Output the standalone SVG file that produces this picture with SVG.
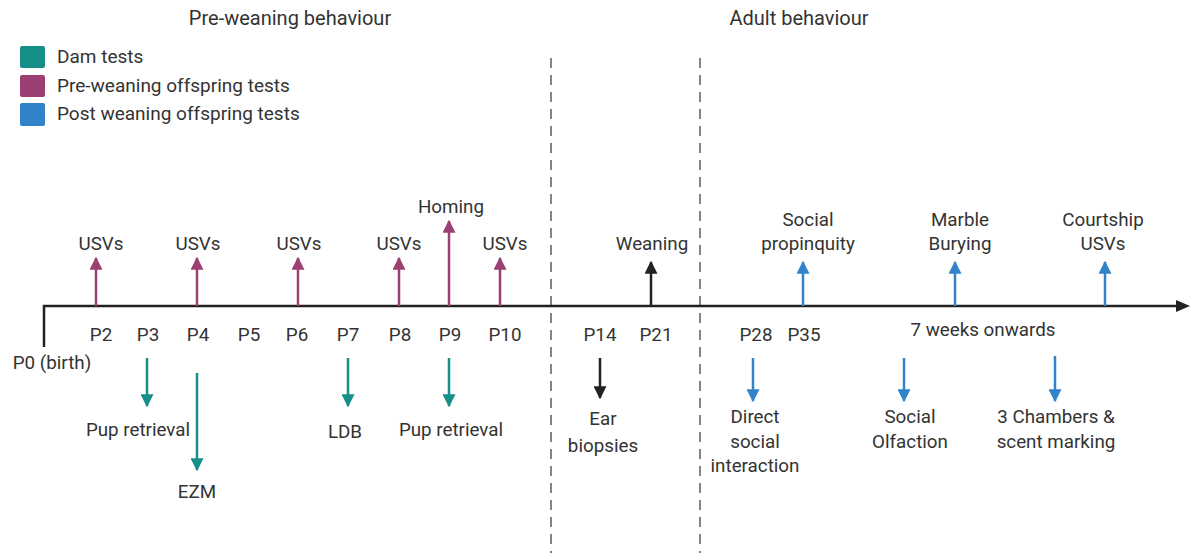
<svg xmlns="http://www.w3.org/2000/svg" width="1191" height="553" viewBox="0 0 1191 553">
<style>
text{font-family:Roboto,"Liberation Sans",sans-serif;font-size:18.8px;fill:#333;text-anchor:middle}
.title{font-size:20px}
.leg{text-anchor:start;font-size:19px}
.t{stroke:#168f88;stroke-width:2.5}
.m{stroke:#9c3f72;stroke-width:2.5}
.b{stroke:#3182c8;stroke-width:2.5}
.k{stroke:#222;stroke-width:2.5}
.dash{stroke:#444;stroke-width:1.3;stroke-dasharray:10 7}
</style>
<defs>
<marker id="at" viewBox="0 0 10 10" refX="9" refY="5" markerWidth="5.2" markerHeight="5.2" orient="auto" markerUnits="strokeWidth"><path d="M0,0L10,5L0,10z" fill="#168f88"/></marker>
<marker id="am" viewBox="0 0 10 10" refX="9" refY="5" markerWidth="5.2" markerHeight="5.2" orient="auto" markerUnits="strokeWidth"><path d="M0,0L10,5L0,10z" fill="#9c3f72"/></marker>
<marker id="ab" viewBox="0 0 10 10" refX="9" refY="5" markerWidth="5.2" markerHeight="5.2" orient="auto" markerUnits="strokeWidth"><path d="M0,0L10,5L0,10z" fill="#3182c8"/></marker>
<marker id="ak" viewBox="0 0 10 10" refX="9" refY="5" markerWidth="5.2" markerHeight="5.2" orient="auto" markerUnits="strokeWidth"><path d="M0,0L10,5L0,10z" fill="#222"/></marker>
</defs>
<rect width="1191" height="553" fill="#fff"/>
<g id="titles">
<text class="title" x="290" y="25">Pre-weaning behaviour</text>
<text class="title" x="799" y="25">Adult behaviour</text>
</g>
<g id="legend">
<rect x="20" y="46" width="25" height="22" rx="2" fill="#168f88"/>
<rect x="20" y="75" width="25" height="22" rx="2" fill="#9c3f72"/>
<rect x="20" y="103" width="25" height="23" rx="2" fill="#3182c8"/>
<text class="leg" x="57" y="63">Dam tests</text>
<text class="leg" x="57" y="92">Pre-weaning offspring tests</text>
<text class="leg" x="57" y="120">Post weaning offspring tests</text>
</g>
<g id="connectors">
<line class="dash" x1="551" y1="58" x2="551" y2="553"/>
<line class="dash" x1="700" y1="58" x2="700" y2="553"/>
<path d="M44,347V306H1178" fill="none" stroke="#222" stroke-width="2.5"/>
<path d="M1176,300L1190,306L1176,312z" fill="#222"/>
<line class="m" x1="96" y1="306" x2="96" y2="258" marker-end="url(#am)"/>
<line class="m" x1="197" y1="306" x2="197" y2="258" marker-end="url(#am)"/>
<line class="m" x1="298" y1="306" x2="298" y2="258" marker-end="url(#am)"/>
<line class="m" x1="399" y1="306" x2="399" y2="258" marker-end="url(#am)"/>
<line class="m" x1="449" y1="306" x2="449" y2="221" marker-end="url(#am)"/>
<line class="m" x1="500" y1="306" x2="500" y2="258" marker-end="url(#am)"/>
<line class="t" x1="147" y1="358" x2="147" y2="406" marker-end="url(#at)"/>
<line class="t" x1="197" y1="373" x2="197" y2="470" marker-end="url(#at)"/>
<line class="t" x1="348" y1="358" x2="348" y2="406" marker-end="url(#at)"/>
<line class="t" x1="449" y1="358" x2="449" y2="406" marker-end="url(#at)"/>
<line class="k" x1="651" y1="306" x2="651" y2="262" marker-end="url(#ak)"/>
<line class="k" x1="600" y1="358" x2="600" y2="398" marker-end="url(#ak)"/>
<line class="b" x1="803" y1="306" x2="803" y2="262" marker-end="url(#ab)"/>
<line class="b" x1="955" y1="306" x2="955" y2="262" marker-end="url(#ab)"/>
<line class="b" x1="1105" y1="306" x2="1105" y2="262" marker-end="url(#ab)"/>
<line class="b" x1="753" y1="358" x2="753" y2="401" marker-end="url(#ab)"/>
<line class="b" x1="904" y1="358" x2="904" y2="401" marker-end="url(#ab)"/>
<line class="b" x1="1055" y1="356" x2="1055" y2="401" marker-end="url(#ab)"/>
</g>
<g id="ticks">
<text x="101" y="341">P2</text>
<text x="148" y="341">P3</text>
<text x="198" y="341">P4</text>
<text x="249" y="341">P5</text>
<text x="297" y="341">P6</text>
<text x="348" y="341">P7</text>
<text x="400" y="341">P8</text>
<text x="450" y="341">P9</text>
<text x="505" y="341">P10</text>
<text x="52" y="369">P0 (birth)</text>
<text x="600" y="341">P14</text>
<text x="656" y="341">P21</text>
<text x="756" y="341">P28</text>
<text x="804" y="341">P35</text>
<text x="983" y="336">7 weeks onwards</text>
</g>
<g id="labels-up">
<text x="101" y="250">USVs</text>
<text x="198" y="250">USVs</text>
<text x="299" y="250">USVs</text>
<text x="399" y="250">USVs</text>
<text x="451" y="213">Homing</text>
<text x="505" y="250">USVs</text>
<text x="652" y="250">Weaning</text>
<text x="808" y="226">Social</text>
<text x="808" y="250">propinquity</text>
<text x="960" y="226">Marble</text>
<text x="960" y="250">Burying</text>
<text x="1103" y="226">Courtship</text>
<text x="1103" y="250">USVs</text>
</g>
<g id="labels-down">
<text x="138" y="436">Pup retrieval</text>
<text x="197" y="498">EZM</text>
<text x="345" y="438">LDB</text>
<text x="451" y="436">Pup retrieval</text>
<text x="603" y="425">Ear</text>
<text x="603" y="452">biopsies</text>
<text x="755" y="423">Direct</text>
<text x="755" y="448">social</text>
<text x="755" y="472">interaction</text>
<text x="910" y="423">Social</text>
<text x="910" y="448">Olfaction</text>
<text x="1056" y="423">3 Chambers &amp;</text>
<text x="1056" y="448">scent marking</text>
</g>
</svg>
